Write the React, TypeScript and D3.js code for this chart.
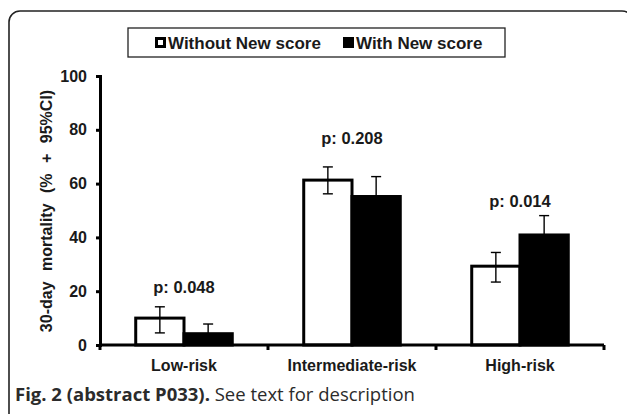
import { useEffect, useRef } from "react";
import * as d3 from "d3";

const categories = ["Low-risk", "Intermediate-risk", "High-risk"];
const seriesNames = ["Without New score", "With New score"];
const withoutScore = [10, 61.3, 29.3];
const withoutLow = [4.5, 56.2, 23.4];
const withoutHigh = [14.2, 66.2, 34.4];
const withScore = [4.2, 55.2, 40.9];
const withLow = [1.2, 48, 33.5];
const withHigh = [7.8, 62.6, 48.1];
const pLabels = ["p: 0.048", "p: 0.208", "p: 0.014"];
const pLabelAt = [21.6, 77, 53.4];
const yTicks = [0, 20, 40, 60, 80, 100];

const FONT = "'Liberation Sans', Arial, sans-serif";

export default function App() {
  const ref = useRef<SVGSVGElement>(null);

  useEffect(() => {
    const svg = d3.select(ref.current);
    svg.selectAll("*").remove();

    const width = 627;
    const height = 414;

    svg.append("rect").attr("width", width).attr("height", height).attr("fill", "#fff");

    // outer frame, runs off the right and bottom edges
    svg.append("rect")
      .attr("x", 9).attr("y", 11)
      .attr("width", 624).attr("height", 420)
      .attr("rx", 11)
      .attr("fill", "none")
      .attr("stroke", "#222")
      .attr("stroke-width", 1.6);

    const x = d3.scaleBand<string>().domain(categories).range([100, 604]);
    const xs = d3.scaleBand<string>().domain(seriesNames).range([0, x.bandwidth()]).paddingOuter(0.74).paddingInner(0);
    const y = d3.scaleLinear().domain([0, 100]).range([345, 76]);

    const g = svg.append("g");

    const data = categories.flatMap((c, i) => [
      { cat: c, s: seriesNames[0], v: withoutScore[i], lo: withoutLow[i], hi: withoutHigh[i], fill: "#fff" },
      { cat: c, s: seriesNames[1], v: withScore[i], lo: withLow[i], hi: withHigh[i], fill: "#000" },
    ]);

    // bars
    g.selectAll("rect.bar")
      .data(data)
      .join("rect")
      .attr("class", "bar")
      .attr("x", d => x(d.cat)! + xs(d.s)!)
      .attr("y", d => y(d.v))
      .attr("width", xs.bandwidth())
      .attr("height", d => y(0) - y(d.v))
      .attr("fill", d => d.fill)
      .attr("stroke", "#000")
      .attr("stroke-width", 3);

    // error bars
    const eb = g.selectAll("g.err").data(data).join("g").attr("class", "err")
      .attr("transform", d => `translate(${x(d.cat)! + xs(d.s)! + xs.bandwidth() / 2},0)`);
    eb.append("line").attr("y1", d => y(d.lo)).attr("y2", d => y(d.hi))
      .attr("stroke", "#000").attr("stroke-width", 1.4);
    eb.append("line").attr("x1", -5).attr("x2", 5).attr("y1", d => y(d.hi)).attr("y2", d => y(d.hi))
      .attr("stroke", "#000").attr("stroke-width", 1.4);
    eb.append("line").attr("x1", -5).attr("x2", 5).attr("y1", d => y(d.lo)).attr("y2", d => y(d.lo))
      .attr("stroke", "#000").attr("stroke-width", 1.4);

    // y axis
    const ya = g.append("g").attr("transform", "translate(100,0)")
      .call(d3.axisLeft(y).tickValues(yTicks).tickSize(4).tickPadding(9));
    ya.select(".domain").attr("stroke-width", 3);
    ya.selectAll(".tick line").attr("stroke-width", 3);
    ya.selectAll("text")
      .attr("font-family", FONT).attr("font-weight", "bold").attr("font-size", 16).attr("fill", "#1a1a1a");

    // x axis: ticks at band edges
    const xa = g.append("g");
    xa.append("line").attr("x1", 100).attr("x2", 604).attr("y1", y(0)).attr("y2", y(0))
      .attr("stroke", "#000").attr("stroke-width", 3);
    xa.selectAll("line.tk")
      .data([...categories.map(c => x(c)!), x.range()[1]])
      .join("line").attr("class", "tk")
      .attr("x1", d => d).attr("x2", d => d).attr("y1", y(0)).attr("y2", y(0) + 5)
      .attr("stroke", "#000").attr("stroke-width", 3);
    xa.selectAll("text")
      .data(categories)
      .join("text")
      .attr("x", d => x(d)! + x.bandwidth() / 2)
      .attr("y", 371)
      .attr("text-anchor", "middle")
      .attr("font-family", FONT).attr("font-weight", "bold").attr("font-size", 16).attr("fill", "#1a1a1a")
      .text(d => d);

    // p values
    g.selectAll("text.p")
      .data(categories)
      .join("text").attr("class", "p")
      .attr("x", d => x(d)! + x.bandwidth() / 2)
      .attr("y", (d, i) => y(pLabelAt[i]) + 6)
      .attr("text-anchor", "middle")
      .attr("font-family", FONT).attr("font-weight", "bold").attr("font-size", 16.5).attr("fill", "#1a1a1a")
      .text((d, i) => pLabels[i]);

    // y title
    svg.append("text")
      .attr("transform", `translate(52,211) rotate(-90)`)
      .attr("text-anchor", "middle")
      .attr("font-family", FONT).attr("font-weight", "bold").attr("font-size", 16).attr("fill", "#1a1a1a")
      .attr("word-spacing", 6)
      .text("30-day mortality (% + 95%CI)");

    // legend
    const lg = svg.append("g");
    lg.append("rect").attr("x", 128).attr("y", 28).attr("width", 377).attr("height", 29)
      .attr("fill", "#fff").attr("stroke", "#222").attr("stroke-width", 1.3);
    const items = [
      { name: seriesNames[0], x: 155, fill: "#fff" },
      { name: seriesNames[1], x: 343, fill: "#000" },
    ];
    items.forEach(it => {
      lg.append("rect").attr("x", it.x + 1.5).attr("y", 38.5).attr("width", 8).attr("height", 8)
        .attr("fill", it.fill).attr("stroke", "#000").attr("stroke-width", 3);
      lg.append("text").attr("x", it.x + 13).attr("y", 49)
        .attr("font-family", FONT).attr("font-weight", "bold").attr("font-size", 17).attr("fill", "#1a1a1a")
        .text(it.name);
    });

    // caption
    const cap = svg.append("text").attr("x", 15).attr("y", 401)
      .attr("font-family", "'Open Sans', 'Noto Sans', sans-serif").attr("font-size", 18.5).attr("fill", "#2b2b2b");
    cap.append("tspan").attr("font-weight", "bold").text("Fig. 2 (abstract P033).");
    cap.append("tspan").text(" See text for description");
  }, []);

  return (
    <svg ref={ref} width={627} height={414}
      style={{ position: "absolute", left: 0, top: 0, display: "block" }} />
  );
}
